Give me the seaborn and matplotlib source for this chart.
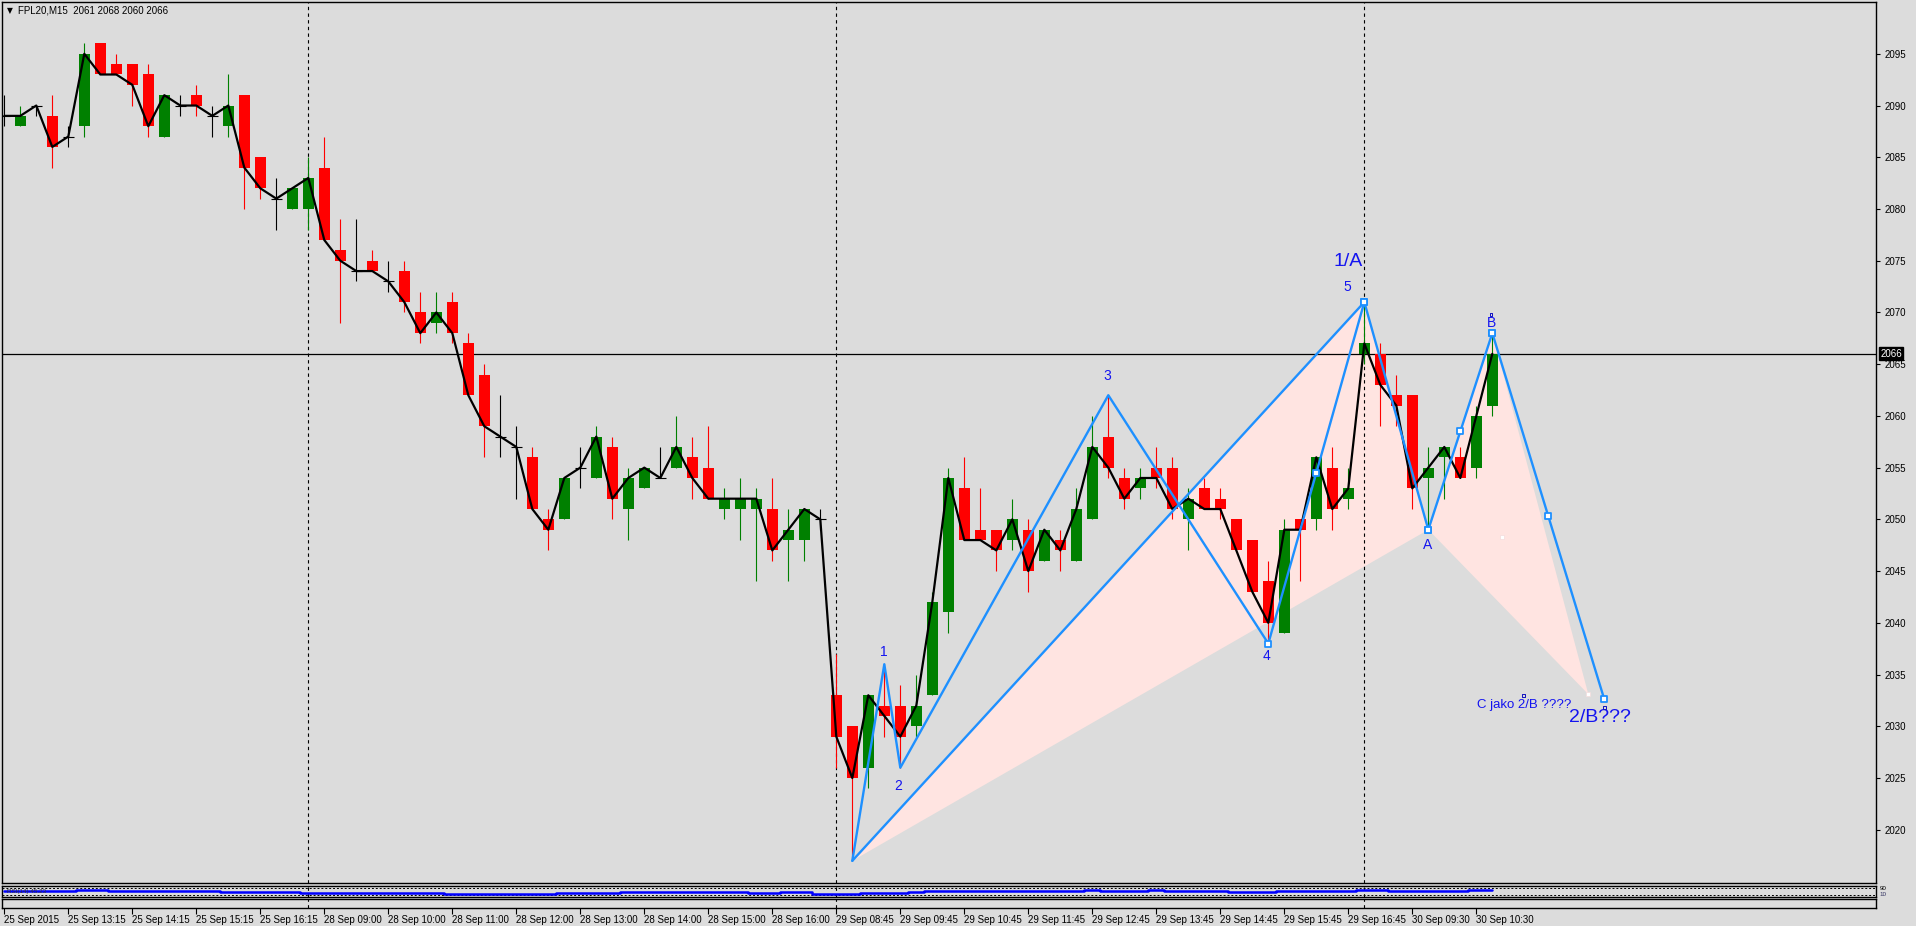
import numpy as np
import pandas as pd
import matplotlib
matplotlib.use("Agg")
import matplotlib.pyplot as plt
import seaborn as sns
from matplotlib.patches import Polygon
from matplotlib.transforms import blended_transform_factory

# ---------------- data ----------------
opens = [2089, 2088, 2090, 2089, 2087, 2088, 2096, 2094, 2094, 2093,
         2087, 2090, 2091, 2089, 2088, 2091, 2085, 2081, 2080, 2080,
         2084, 2076, 2074, 2075, 2073, 2074, 2070, 2069, 2071, 2067,
         2064, 2058, 2057, 2056, 2050, 2050, 2055, 2054, 2057, 2051,
         2053, 2054, 2055, 2056, 2055, 2051, 2051, 2051, 2051, 2048,
         2048, 2050, 2033, 2030, 2026, 2032, 2032, 2030, 2033, 2041,
         2053, 2049, 2049, 2048, 2049, 2046, 2048, 2046, 2050, 2058,
         2054, 2053, 2055, 2055, 2050, 2053, 2052, 2050, 2048, 2044,
         2039, 2050, 2050, 2055, 2052, 2066, 2066, 2062, 2062, 2054,
         2056, 2056, 2055, 2061]
highs = [2091, 2090, 2090, 2091, 2088, 2096, 2096, 2095, 2094, 2094,
         2091, 2091, 2092, 2090, 2093, 2091, 2085, 2083, 2082, 2085,
         2087, 2079, 2079, 2076, 2075, 2075, 2072, 2072, 2072, 2068,
         2065, 2062, 2059, 2057, 2051, 2054, 2057, 2059, 2058, 2055,
         2055, 2057, 2060, 2058, 2059, 2053, 2054, 2053, 2054, 2051,
         2051, 2051, 2037, 2030, 2033, 2036, 2034, 2035, 2043, 2055,
         2056, 2053, 2049, 2052, 2050, 2049, 2049, 2053, 2060, 2062,
         2055, 2055, 2057, 2056, 2053, 2054, 2053, 2050, 2048, 2046,
         2050, 2050, 2056, 2057, 2055, 2071, 2067, 2064, 2062, 2057,
         2057, 2057, 2061, 2068]
lows = [2088, 2088, 2089, 2084, 2086, 2087, 2093, 2093, 2090, 2087,
        2087, 2089, 2089, 2087, 2087, 2080, 2081, 2078, 2080, 2078,
        2077, 2069, 2073, 2074, 2072, 2070, 2067, 2068, 2067, 2062,
        2056, 2056, 2052, 2051, 2047, 2050, 2053, 2054, 2050, 2048,
        2053, 2054, 2055, 2052, 2052, 2050, 2048, 2044, 2046, 2044,
        2046, 2049, 2026, 2017, 2024, 2029, 2026, 2029, 2033, 2039,
        2048, 2048, 2045, 2047, 2043, 2046, 2045, 2046, 2050, 2054,
        2051, 2052, 2053, 2050, 2047, 2051, 2050, 2047, 2043, 2038,
        2039, 2044, 2049, 2049, 2051, 2065, 2059, 2059, 2051, 2049,
        2052, 2054, 2054, 2060]
closes = [2089, 2089, 2090, 2086, 2087, 2095, 2093, 2093, 2092, 2088,
          2091, 2090, 2090, 2089, 2090, 2084, 2082, 2081, 2082, 2083,
          2077, 2075, 2074, 2074, 2073, 2071, 2068, 2070, 2068, 2062,
          2059, 2058, 2057, 2051, 2049, 2054, 2055, 2058, 2052, 2054,
          2055, 2054, 2057, 2054, 2052, 2052, 2052, 2052, 2047, 2049,
          2051, 2050, 2029, 2025, 2033, 2031, 2029, 2032, 2042, 2054,
          2048, 2048, 2047, 2050, 2045, 2049, 2047, 2051, 2057, 2055,
          2052, 2054, 2054, 2051, 2052, 2051, 2051, 2047, 2043, 2040,
          2049, 2049, 2056, 2051, 2053, 2067, 2063, 2061, 2053, 2055,
          2057, 2054, 2060, 2066]

tick_bars = list(range(0, 94, 4))
tick_labels = ["25 Sep 2015", "25 Sep 13:15", "25 Sep 14:15", "25 Sep 15:15",
               "25 Sep 16:15", "28 Sep 09:00", "28 Sep 10:00", "28 Sep 11:00",
               "28 Sep 12:00", "28 Sep 13:00", "28 Sep 14:00", "28 Sep 15:00",
               "28 Sep 16:00", "29 Sep 08:45", "29 Sep 09:45", "29 Sep 10:45",
               "29 Sep 11:45", "29 Sep 12:45", "29 Sep 13:45", "29 Sep 14:45",
               "29 Sep 15:45", "29 Sep 16:45", "30 Sep 09:30", "30 Sep 10:30"]
day_starts = [19, 52, 85]
price_ticks = list(range(2020, 2100, 5))
last_price = 2066

ind_vals = ([52] * 5 + [64] * 2 + [52] * 7 + [43] * 5 + [36] * 9 + [27] * 7 +
            [36] * 4 + [45] * 8 + [36] * 2 + [45] * 2 + [27] * 3 + [36] * 3 +
            [45] + [52] * 10 + [64] + [52] * 3 + [64] + [52] * 4 + [43] * 3 +
            [52] * 5 + [61] * 2 + [52] * 5 + [61] * 2)
ind_levels = [76, 15]

# Elliott wave path (bar index, price)
wave_bars = [53, 55, 56, 69, 79, 85, 89, 93, 100]
wave_prices = [2017, 2036, 2026, 2062, 2038, 2071, 2049, 2068, 2032.6]
# extra line 0 -> 5
line05_bars = [53, 85]
line05_prices = [2017, 2071]
# selected segments (marker at ends and midpoint): indexes into wave path
selected_segments = [(4, 5), (6, 7), (7, 8)]
extra_markers = [5, 6]
# pink triangles
tri1_bars = [53, 85, 89]
tri1_prices = [2017, 2071, 2049]
tri2_bars = [89, 93, 99]
tri2_prices = [2049, 2068, 2033.1]
white_anchor_bars = [99, 93.6]
white_anchor_prices = [2033.1, 2048.3]

# wave labels
label_texts = ["1", "2", "3", "4", "5", "A", "B"]
label_bars = [54.94, 55.88, 68.94, 78.9, 83.94, 88.94, 92.92]
label_prices = [2037.15, 2024.26, 2063.89, 2036.8, 2072.49, 2047.52, 2069.0]
big_texts = ["1/A", "2/B???"]
big_bars = [84.0, 97.81]
big_prices = [2074.9, 2030.87]
big_ha = ["center", "left"]
note_text = "C jako 2/B ????"
note_bar = 92.03
note_price = 2032.06

# ---------------- style ----------------
sns.set_style("white")
plt.rcParams["font.family"] = ["Liberation Sans", "DejaVu Sans"]
BG = "#DCDCDC"
GREEN = "#008000"
RED = "#FF0000"
WAVE = "#1E90FF"
LBL = "#1414F0"
PINK = "#FFE4E1"

W, H = 1916, 926
fig = plt.figure(figsize=(W / 100, H / 100), dpi=100, facecolor=BG)

def rect(x0, y0, x1, y1):
    return [x0 / W, 1 - y1 / H, (x1 - x0) / W, (y1 - y0) / H]

ax = fig.add_axes(rect(2, 2, 1876, 883))
axi = fig.add_axes(rect(2, 885.7, 1876, 896.7))
axl = fig.add_axes(rect(2, 898.7, 1876, 907.7))

xlim = (-0.144, 116.98)
for a in (ax, axi, axl):
    a.set_facecolor(BG)
    a.set_xlim(*xlim)
    for s in a.spines.values():
        s.set_color("black")
        s.set_linewidth(1.0)
        s.set_visible(True)
    for d in day_starts:
        a.axvline(d, color="black", lw=0.8, ls=(0, (3, 3)), zorder=1.5)

ax.set_ylim(2014.853, 2100.007)

n = len(closes)
idx = np.arange(n)
df = pd.DataFrame({"bar": idx, "open": opens, "high": highs,
                   "low": lows, "close": closes})

# pink triangles
ax.add_patch(Polygon(list(zip(tri1_bars, tri1_prices)), closed=True,
                     facecolor=PINK, edgecolor="none", zorder=1))
ax.add_patch(Polygon(list(zip(tri2_bars, tri2_prices)), closed=True,
                     facecolor=PINK, edgecolor="none", zorder=1))

# current price line
ax.axhline(last_price, color="black", lw=0.9, zorder=1.6)

# candles
cols = []
for o, c in zip(opens, closes):
    if c > o:
        cols.append(GREEN)
    elif c < o:
        cols.append(RED)
    else:
        cols.append("black")
ax.vlines(idx, lows, highs, colors=cols, lw=0.8, zorder=2)
body_b = np.minimum(opens, closes)
body_h = np.abs(np.array(closes) - np.array(opens))
mask = body_h > 0
ax.bar(idx[mask], body_h[mask], bottom=body_b[mask], width=0.68,
       color=np.array(cols)[mask], linewidth=0, zorder=3)
dj = ~mask
ax.hlines(np.array(closes)[dj], idx[dj] - 0.34, idx[dj] + 0.34,
          colors="black", lw=0.8, zorder=3)

# close line
sns.lineplot(data=df, x="bar", y="close", ax=ax, color="black", lw=1.6,
             sort=False, zorder=4, legend=False)

# wave lines
sns.lineplot(x=wave_bars, y=wave_prices, ax=ax, color=WAVE, lw=1.7,
             sort=False, zorder=5, legend=False, estimator=None)
sns.lineplot(x=line05_bars, y=line05_prices, ax=ax, color=WAVE, lw=1.7,
             sort=False, zorder=5, legend=False, estimator=None)

mk_x, mk_y = [], []
for a_i, b_i in selected_segments:
    for k in (a_i, b_i):
        mk_x.append(wave_bars[k]); mk_y.append(wave_prices[k])
    mk_x.append((wave_bars[a_i] + wave_bars[b_i]) / 2)
    mk_y.append((wave_prices[a_i] + wave_prices[b_i]) / 2)
for k in extra_markers:
    mk_x.append(wave_bars[k]); mk_y.append(wave_prices[k])
ax.scatter(mk_x, mk_y, marker="s", s=14, facecolor="white",
           edgecolor=WAVE, linewidth=1.3, zorder=6)
ax.scatter(white_anchor_bars, white_anchor_prices, marker="s", s=6,
           facecolor="white", edgecolor="#F4DCDC", linewidth=0.5, zorder=6)

# wave labels
for t, xb, yp in zip(label_texts, label_bars, label_prices):
    ax.text(xb, yp, t, color=LBL, fontsize=10, ha="center", va="center",
            zorder=7)
for t, xb, yp, ha in zip(big_texts, big_bars, big_prices, big_ha):
    ax.text(xb, yp, t, color=LBL, fontsize=14, ha=ha, va="center", zorder=7)
ax.text(note_bar, note_price, note_text, color=LBL, fontsize=9.5,
        ha="left", va="center", zorder=7)
# tiny anchor squares of text objects
ax.scatter([label_bars[6], note_bar + 2.9, wave_bars[8]],
           [label_prices[6] + 0.8, note_price + 0.9, wave_prices[8] - 0.75],
           marker="s", s=4, facecolor="none", edgecolor="#1010C0",
           linewidth=0.7, zorder=7)

# price axis on right
ax.set_xticks([])
ax.yaxis.tick_right()
ax.set_yticks(price_ticks)
ax.set_yticklabels([str(p) for p in price_ticks])
ax.tick_params(axis="y", right=True, left=False, direction="out", length=3,
               width=0.8, pad=3, labelsize=7, colors="black")
ax.set_xlabel(""); ax.set_ylabel("")
ax.annotate(str(last_price), xy=(1.0, last_price),
            xycoords=blended_transform_factory(ax.transAxes, ax.transData),
            xytext=(3, 0), textcoords="offset points", ha="left",
            va="center", fontsize=7, color="white", zorder=10,
            annotation_clip=False,
            bbox=dict(boxstyle="square,pad=0.15", fc="black", ec="black"))

# title
fig.text(7 / W, 1 - 10.7 / H, "\u25BC", fontsize=5.5, color="black",
         ha="left", va="center", family=["DejaVu Sans"])
fig.text(18 / W, 1 - 10.7 / H, "FPL20,M15  2061 2068 2060 2066",
         fontsize=7, color="black", ha="left", va="center")

# indicator panel
axi.set_ylim(0, 100)
for lv in ind_levels:
    axi.axhline(lv, color="black", lw=0.7, ls=(0, (2, 2)), zorder=2)
sns.lineplot(x=idx, y=ind_vals, ax=axi, color="#0000FF", lw=1.8,
             drawstyle="steps-mid", legend=False, zorder=3, estimator=None)
axi.set_xticks([]); axi.set_yticks([])
axi.set_xlabel(""); axi.set_ylabel("")
axi.text(0.15, 22, "RSI(14) 45.23", fontsize=4.5, color="#303030",
         ha="left", va="bottom", zorder=4)
axi.text(1.002, 0.55, "90", transform=axi.transAxes, fontsize=4.5,
         ha="left", va="bottom", color="black")
axi.text(1.002, 0.45, "10", transform=axi.transAxes, fontsize=4.5,
         ha="left", va="top", color="#303060")

# lower empty panel with time axis
axl.set_yticks([])
axl.set_xticks(tick_bars)
axl.set_xticklabels(tick_labels, ha="left")
axl.tick_params(axis="x", bottom=True, direction="out", length=4.5,
                width=0.8, pad=0.5, labelsize=7, colors="black")
axl.set_xlabel(""); axl.set_ylabel("")

fig.savefig("out.png", dpi=100, facecolor=BG)
